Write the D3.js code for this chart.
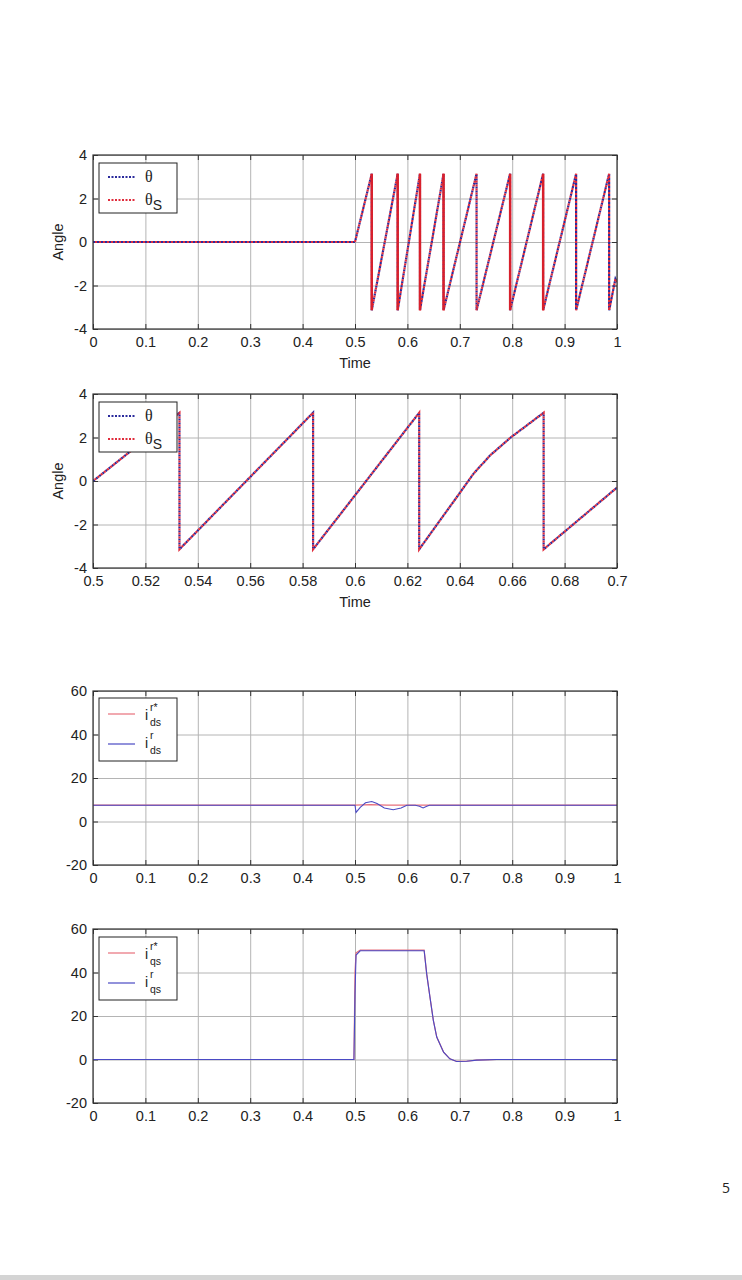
<!DOCTYPE html>
<html>
<head>
<meta charset="utf-8">
<script src="https://cdn.jsdelivr.net/npm/d3@7"></script>
<style>
  body { margin: 0; background: #fff; }
  svg { display: block; font-family: "Liberation Sans", Arial, sans-serif; }
  .tick text { fill: #222; font-size: 14.5px; }
</style>
</head>
<body>
<div id="page"></div>
<script>
// ---- data ----
const timeTicks = [0, 0.1, 0.2, 0.3, 0.4, 0.5, 0.6, 0.7, 0.8, 0.9, 1];
const zoomTimeTicks = [0.5, 0.52, 0.54, 0.56, 0.58, 0.6, 0.62, 0.64, 0.66, 0.68, 0.7];
const angleTicks = [-4, -2, 0, 2, 4];
const currentTicks = [-20, 0, 20, 40, 60];

// full run 0..1 s
const angleTime = [0, 0.5, 0.532, 0.532, 0.5815, 0.5815, 0.624, 0.624, 0.669, 0.669,
  0.732, 0.732, 0.796, 0.796, 0.859, 0.859, 0.922, 0.922, 0.985, 0.985, 0.997, 1.0];
const theta = [0, 0, 3.14, -3.14, 3.14, -3.14, 3.14, -3.14, 3.14, -3.14,
  3.14, -3.14, 3.14, -3.14, 3.14, -3.14, 3.14, -3.14, 3.14, -3.14, -1.7, -1.85];
const thetaS = [0, 0, 3.14, -3.14, 3.14, -3.14, 3.14, -3.14, 3.14, -3.14,
  3.14, -3.14, 3.14, -3.14, 3.14, -3.14, 3.14, -3.14, 3.14, -3.14, -1.7, -1.85];
// wraps where the theta_s trace shows as a solid red drop
const thetaSSolidDrops = [0.532, 0.5815, 0.624, 0.669, 0.796, 0.859];

// zoom 0.5..0.7 s
const zoomTime = [0.5, 0.533, 0.533, 0.584, 0.584, 0.6245, 0.6245, 0.6325, 0.6394, 0.6452,
  0.6515, 0.6594, 0.6655, 0.672, 0.672, 0.7];
const thetaZoom = [0, 3.14, -3.14, 3.14, -3.14, 3.14, -3.14, -1.8, -0.65, 0.33,
  1.17, 2.0, 2.55, 3.14, -3.14, -0.3];
const thetaSZoom = [0, 3.14, -3.14, 3.14, -3.14, 3.14, -3.14, -1.8, -0.65, 0.33,
  1.17, 2.0, 2.55, 3.14, -3.14, -0.3];

// d-axis current
const idsTime = [0, 0.5, 0.502, 0.51, 0.52, 0.532, 0.542, 0.556, 0.573, 0.588, 0.599,
  0.615, 0.623, 0.630, 0.637, 0.642, 1.0];
const ids = [7.5, 7.5, 4.2, 6.5, 8.6, 9.2, 8.3, 6.2, 5.4, 6.2, 7.5,
  7.5, 7.0, 6.2, 7.0, 7.5, 7.5];
const idsRefTime = [0, 0.5, 0.53, 0.56, 1.0];
const idsRef = [7.5, 7.5, 7.8, 7.5, 7.5];

// q-axis current
const iqsTime = [0, 0.498, 0.5, 0.502, 0.51, 0.632, 0.637, 0.643, 0.6495, 0.656,
  0.669, 0.681, 0.694, 0.713, 0.732, 0.77, 1.0];
const iqs = [0, 0, 30, 48, 50, 50, 39, 28.8, 18, 10.3,
  3.4, 0.3, -0.9, -0.8, -0.3, 0, 0];
const iqsRef = [0, 0, 40, 49, 50.3, 50.3, 39, 28.8, 18, 10.3,
  3.4, 0.3, -0.9, -0.8, -0.3, 0, 0];

const W = 742, H = 1280;
const fmt = v => String(v);   // plain hyphen minus, like the original

const svg = d3.select('#page').append('svg')
  .attr('width', W)
  .attr('height', H);

svg.append('rect').attr('width', W).attr('height', H).attr('fill', '#fff');

function panel(opt) {
  const left = 93, right = 617;
  const x = d3.scaleLinear().domain(opt.xDomain).range([left, right]);
  const y = d3.scaleLinear().domain(opt.yDomain).range([opt.bottom, opt.top]);
  const g = svg.append('g');
  const h = opt.bottom - opt.top;
  const w = right - left;

  // grid
  g.append('g')
    .attr('transform', `translate(0,${opt.bottom})`)
    .call(d3.axisBottom(x).tickValues(opt.xTicks).tickSize(-h).tickFormat(''))
    .call(s => s.select('.domain').remove())
    .call(s => s.selectAll('line').attr('stroke', '#b4b4b4'));
  g.append('g')
    .attr('transform', `translate(${left},0)`)
    .call(d3.axisLeft(y).tickValues(opt.yTicks).tickSize(-w).tickFormat(''))
    .call(s => s.select('.domain').remove())
    .call(s => s.selectAll('line').attr('stroke', '#b4b4b4'));

  // inner tick marks on all four sides
  const tk = 5;
  [
    [d3.axisTop(x).tickValues(opt.xTicks), `translate(0,${opt.bottom})`],
    [d3.axisBottom(x).tickValues(opt.xTicks), `translate(0,${opt.top})`],
    [d3.axisRight(y).tickValues(opt.yTicks), `translate(${left},0)`],
    [d3.axisLeft(y).tickValues(opt.yTicks), `translate(${right},0)`]
  ].forEach(([ax, tr]) => {
    g.append('g').attr('transform', tr)
      .call(ax.tickSize(tk).tickFormat(''))
      .call(s => s.select('.domain').remove())
      .call(s => s.selectAll('line').attr('stroke', '#333'));
  });

  // tick labels
  g.append('g')
    .attr('transform', `translate(0,${opt.bottom})`)
    .call(d3.axisBottom(x).tickValues(opt.xTicks).tickSize(0).tickPadding(8).tickFormat(fmt))
    .call(s => s.select('.domain').remove())
    .call(s => s.selectAll('text').attr('font-family', '"Liberation Sans", Arial, sans-serif'));
  g.append('g')
    .attr('transform', `translate(${left},0)`)
    .call(d3.axisLeft(y).tickValues(opt.yTicks).tickSize(0).tickPadding(6).tickFormat(fmt))
    .call(s => s.select('.domain').remove())
    .call(s => s.selectAll('text').attr('font-family', '"Liberation Sans", Arial, sans-serif'));

  // series
  const clipId = 'clip' + opt.top;
  svg.append('clipPath').attr('id', clipId)
    .append('rect').attr('x', left).attr('y', opt.top - 2).attr('width', w).attr('height', h + 4);
  const plot = g.append('g').attr('clip-path', `url(#${clipId})`);
  opt.series.forEach(s => {
    const pts = s.t.map((t, i) => [t, s.v[i]]);
    plot.append('path')
      .datum(pts)
      .attr('fill', 'none')
      .attr('stroke', s.color)
      .attr('stroke-width', s.width)
      .attr('stroke-dasharray', s.dash || null)
      .attr('stroke-dashoffset', s.offset || 0)
      .attr('d', d3.line().x(d => x(d[0])).y(d => y(d[1])));
  });
  if (opt.solidDrops) {
    plot.selectAll('line.drop')
      .data(opt.solidDrops.t)
      .enter()
      .append('line')
      .attr('class', 'drop')
      .attr('x1', d => x(d)).attr('x2', d => x(d))
      .attr('y1', y(opt.solidDrops.hi)).attr('y2', y(opt.solidDrops.lo))
      .attr('stroke', opt.solidDrops.color)
      .attr('stroke-width', 2.4);
  }

  // box
  g.append('rect')
    .attr('x', left).attr('y', opt.top)
    .attr('width', w).attr('height', h)
    .attr('fill', 'none').attr('stroke', '#333').attr('stroke-width', 1.2);

  // axis titles
  if (opt.xLabel) {
    g.append('text')
      .attr('x', (left + right) / 2).attr('y', opt.bottom + 39)
      .attr('text-anchor', 'middle').attr('font-size', 14.5).attr('fill', '#222')
      .text(opt.xLabel);
  }
  if (opt.yLabel) {
    g.append('text')
      .attr('transform', `translate(63,${(opt.top + opt.bottom) / 2}) rotate(-90)`)
      .attr('text-anchor', 'middle').attr('font-size', 14.5).attr('fill', '#222')
      .text(opt.yLabel);
  }

  // legend
  const lg = g.append('g').attr('transform', `translate(99,${opt.top + opt.legend.dy})`);
  lg.append('rect')
    .attr('width', 78).attr('height', opt.legend.h)
    .attr('fill', '#fff').attr('stroke', '#222').attr('stroke-width', 1);
  opt.legend.items.forEach((it, i) => {
    const ly = opt.legend.rows[i];
    lg.append('line')
      .attr('x1', 9).attr('x2', 36).attr('y1', ly).attr('y2', ly)
      .attr('stroke', it.color).attr('stroke-width', it.width)
      .attr('stroke-dasharray', it.dash || null);
    it.draw(lg, opt.legend.textRows[i]);
  });
  return g;
}

const thetaBlue = '#2b2b9c', thetaRed = '#e02c3c';

function thetaLegend(sub) {
  return (lg, b) => {
    const t = lg.append('text').attr('x', 46).attr('y', b)
      .attr('font-size', 16).attr('fill', '#222')
      .attr('font-family', '"Liberation Serif", "DejaVu Serif", serif');
    t.append('tspan').text('θ');
    if (sub) {
      t.append('tspan').attr('dy', 5).attr('font-size', 14)
        .attr('font-family', '"Liberation Sans", Arial, sans-serif').text(sub);
    }
  };
}

function currentLegend(sup, sub) {
  return (lg, b) => {
    lg.append('text').attr('x', 46).attr('y', b).attr('font-size', 14).attr('fill', '#222').text('i');
    lg.append('text').attr('x', 51).attr('y', b - 9).attr('font-size', 10.5).attr('fill', '#222').text(sup);
    lg.append('text').attr('x', 51).attr('y', b + 6).attr('font-size', 10.5).attr('fill', '#222').text(sub);
  };
}

const angleLegend = {
  dy: 8, h: 50, rows: [14, 37], textRows: [19, 42],
  items: [
    { color: thetaBlue, width: 2, dash: '2,1.5', draw: thetaLegend(null) },
    { color: thetaRed, width: 2, dash: '2,1.5', draw: thetaLegend('S') }
  ]
};

panel({
  xDomain: [0, 1], yDomain: [-4, 4], top: 155, bottom: 329,
  xTicks: timeTicks, yTicks: angleTicks, xLabel: 'Time', yLabel: 'Angle',
  series: [
    { t: angleTime, v: theta, color: thetaBlue, width: 2.2, dash: '2,2' },
    { t: angleTime, v: thetaS, color: thetaRed, width: 2.2, dash: '2,2', offset: 2 }
  ],
  solidDrops: { t: thetaSSolidDrops, hi: 3.14, lo: -3.14, color: '#d8202c' },
  legend: angleLegend
});

panel({
  xDomain: [0.5, 0.7], yDomain: [-4, 4], top: 394, bottom: 568,
  xTicks: zoomTimeTicks, yTicks: angleTicks, xLabel: 'Time', yLabel: 'Angle',
  series: [
    { t: zoomTime, v: thetaZoom, color: thetaBlue, width: 2.2, dash: '2,2' },
    { t: zoomTime, v: thetaSZoom, color: thetaRed, width: 2.2, dash: '2,2', offset: 2 }
  ],
  legend: angleLegend
});

const curRed = '#e8707c', curBlue = '#4a4ac4';

panel({
  xDomain: [0, 1], yDomain: [-20, 60], top: 691, bottom: 865,
  xTicks: timeTicks, yTicks: currentTicks,
  series: [
    { t: idsRefTime, v: idsRef, color: curRed, width: 1.2 },
    { t: idsTime, v: ids, color: curBlue, width: 1.1 }
  ],
  legend: {
    dy: 7, h: 63, rows: [16, 46], textRows: [22, 50],
    items: [
      { color: curRed, width: 1.2, draw: currentLegend('r*', 'ds') },
      { color: curBlue, width: 1.2, draw: currentLegend('r', 'ds') }
    ]
  }
});

panel({
  xDomain: [0, 1], yDomain: [-20, 60], top: 929, bottom: 1103,
  xTicks: timeTicks, yTicks: currentTicks,
  series: [
    { t: iqsTime, v: iqsRef, color: curRed, width: 1.2 },
    { t: iqsTime, v: iqs, color: curBlue, width: 1.1 }
  ],
  legend: {
    dy: 8, h: 63, rows: [16, 46], textRows: [22, 50],
    items: [
      { color: curRed, width: 1.2, draw: currentLegend('r*', 'qs') },
      { color: curBlue, width: 1.2, draw: currentLegend('r', 'qs') }
    ]
  }
});

// page number and bottom bar
svg.append('text').attr('x', 726).attr('y', 1193)
  .attr('text-anchor', 'middle').attr('font-size', 14).attr('fill', '#222')
  .attr('font-family', '"Open Sans", "Noto Sans", sans-serif').text('5');
svg.append('rect').attr('x', 0).attr('y', 1275).attr('width', W).attr('height', 5).attr('fill', '#d4d4d4');
</script>
</body>
</html>
